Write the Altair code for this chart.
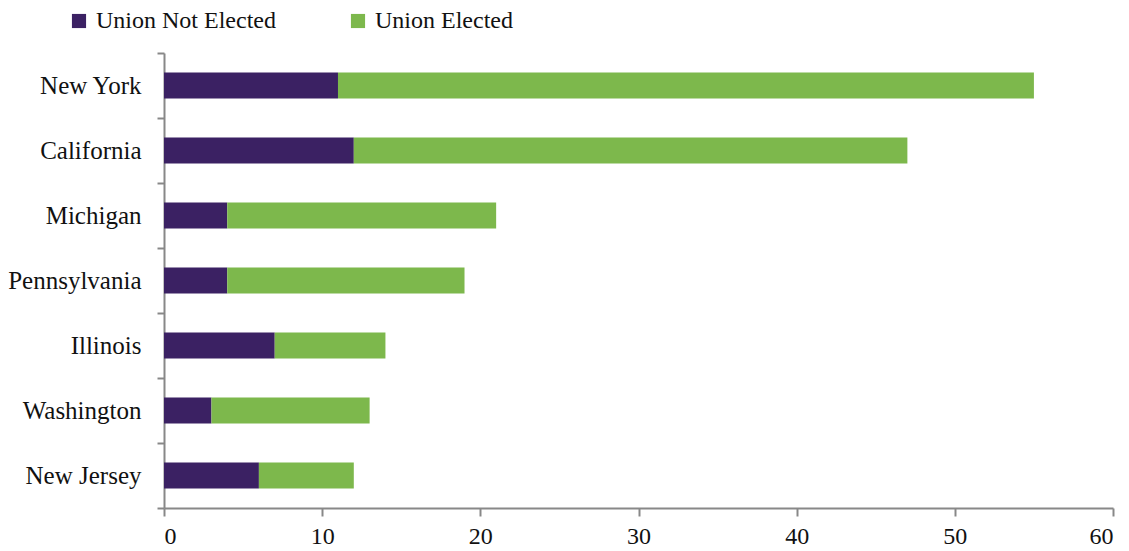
import altair as alt
import pandas as pd

states = ["New York", "California", "Michigan", "Pennsylvania", "Illinois", "Washington", "New Jersey"]
not_elected = [11, 12, 4, 4, 7, 3, 6]
elected = [44, 35, 17, 15, 7, 10, 6]
series = ["Union Not Elected", "Union Elected"]
colors = ["#3B2163", "#7DB84C"]

rows = []
for s, a, b in zip(states, not_elected, elected):
    rows.append({"state": s, "series": series[0], "value": a, "ord": 0})
    rows.append({"state": s, "series": series[1], "value": b, "ord": 1})
df = pd.DataFrame(rows)

FONT = "Liberation Serif"
AX = "#888888"
FS = 24

chart = alt.Chart(df).mark_bar(height=26).encode(
    y=alt.Y("state:N", sort=states, title=None,
            scale=alt.Scale(paddingInner=0, paddingOuter=0),
            axis=alt.Axis(tickBand="extent", domainColor=AX, tickColor=AX,
                          domainWidth=2, tickWidth=2, tickSize=7, labelPadding=16,
                          labelFont=FONT, labelFontSize=25, labelColor="#111", labelLimit=300)),
    x=alt.X("value:Q", stack="zero", title=None,
            scale=alt.Scale(domain=[0, 60], nice=False),
            axis=alt.Axis(values=[0, 10, 20, 30, 40, 50, 60], grid=False,
                          domainColor=AX, tickColor=AX, domainWidth=2, tickWidth=2,
                          tickSize=8, labelPadding=8, labelFont=FONT,
                          labelFontSize=FS, labelColor="#111")),
    color=alt.Color("series:N", scale=alt.Scale(domain=series, range=colors),
                    legend=alt.Legend(title=None, orient="none", direction="horizontal",
                                      legendX=-97, legendY=-44, symbolType="square",
                                      symbolSize=200, symbolStrokeWidth=0,
                                      labelFont=FONT, labelFontSize=FS, labelColor="#111",
                                      labelLimit=400, columnPadding=70, labelOffset=5)),
    order=alt.Order("ord:Q"),
).properties(
    width=949, height=455,
    autosize=alt.AutoSizeParams(type="none"),
    padding={"left": 156, "top": 45, "right": 8, "bottom": 40},
).configure(font=FONT).configure_view(stroke=None)

chart.save("out.html", embed_options={"renderer": "svg", "actions": False})
